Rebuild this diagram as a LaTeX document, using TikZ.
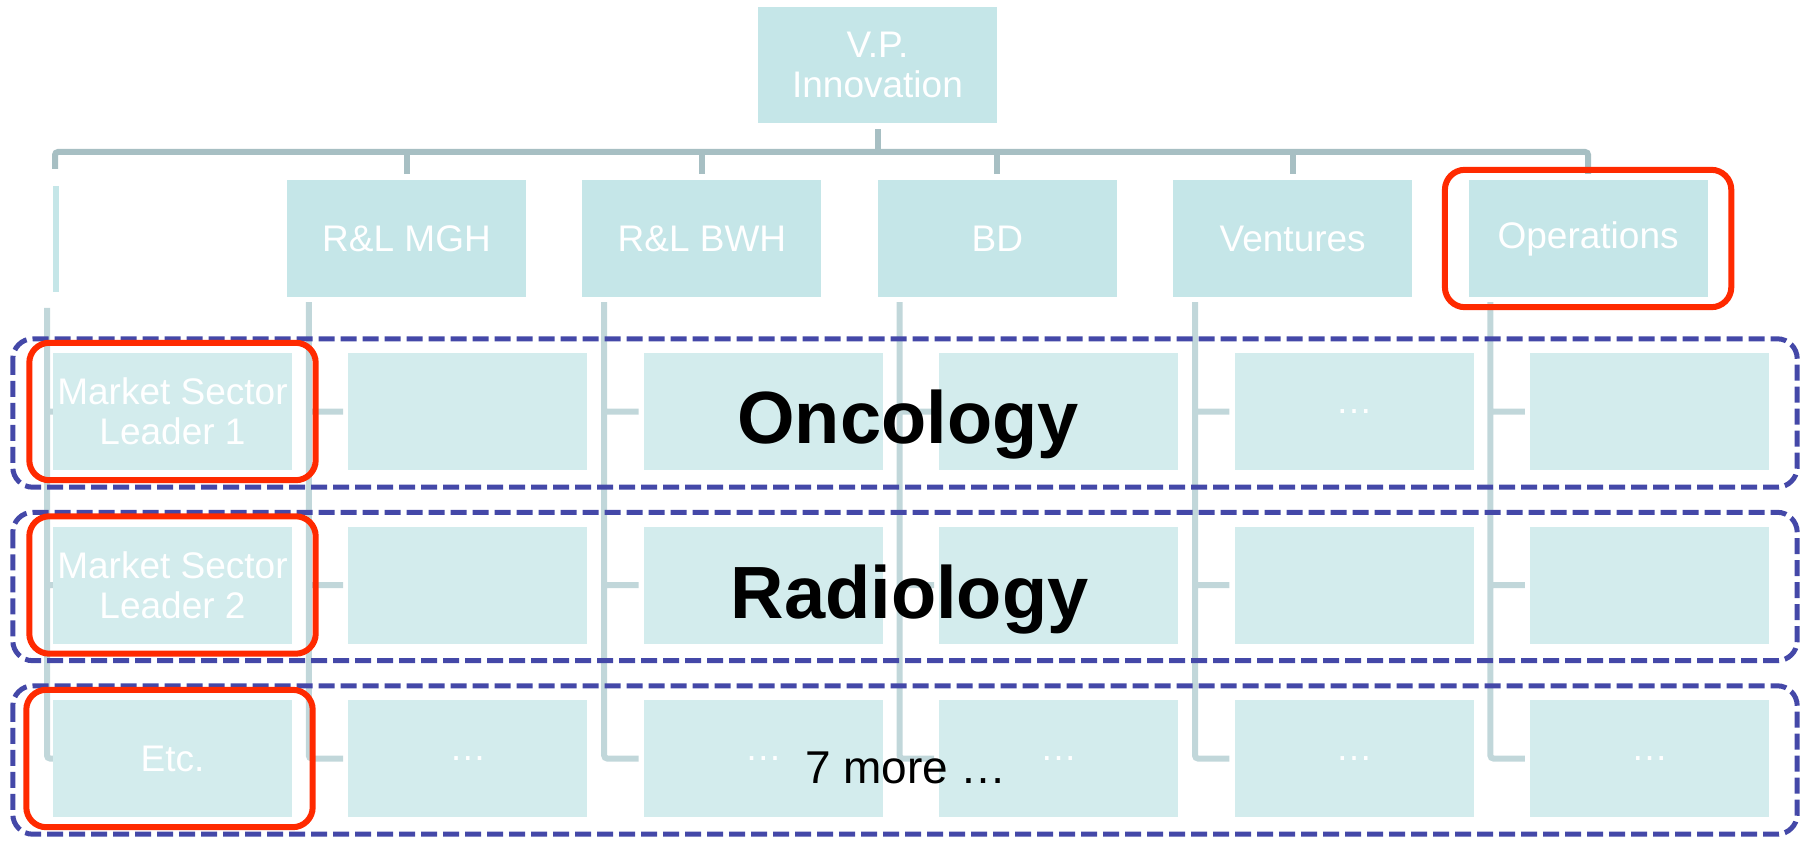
\documentclass[tikz,border=0pt]{standalone}
\usepackage{fontspec}
\setmainfont{Liberation Sans}
\usetikzlibrary{fit}
\definecolor{postfill}{RGB}{197,230,232}
\definecolor{slotfill}{RGB}{211,236,237}
\definecolor{busline}{RGB}{167,191,195}
\definecolor{linkline}{RGB}{193,215,218}
\definecolor{markred}{RGB}{255,42,0}
\definecolor{sectorblue}{RGB}{68,72,168}
\tikzset{post/.style={fill=postfill, text=white, minimum width=239pt, minimum height=117pt, inner sep=0pt, align=center, font=\fontsize{37}{40}\selectfont},
         slot/.style={post, fill=slotfill},
         bus/.style={busline, line width=6pt},
         link/.style={linkline, line width=6pt, rounded corners=3pt}}
\tikzset{highlight/.style={draw=markred, line width=6pt, rounded corners=20pt, inner xsep=23.5pt, inner ysep=10pt},
         sector/.style={sectorblue, line width=5pt, dash pattern=on 16pt off 6pt, rounded corners=20pt},
         sectorname/.style={anchor=base, inner sep=0pt, text=black, font=\fontsize{74}{80}\selectfont\bfseries}}

\begin{document}
\begin{tikzpicture}[x=1pt,y=-1pt]
  \useasboundingbox (0,0) rectangle (1802,842);

  % top and second level
  \node[post, minimum height=116pt] (vp) at (877.5,65) {V.P.\\Innovation};
  \node[post] (mgh)  at ( 406.5,238.5) {R\&L MGH};
  \node[post] (bwh)  at ( 701.9,238.5) {R\&L BWH};
  \node[post] (bd)   at ( 997.3,238.5) {BD};
  \node[post] (vent) at (1292.7,238.5) {Ventures};
  \node[post] (ops)  at (1588.1,238.5) {Operations};

  % market sector rows
  \node[slot] (ms1)   at ( 172.5,411.5) {Market Sector\\Leader 1};
  \node[slot] (mgh1)  at ( 467.9,411.5) {};
  \node[slot] (bwh1)  at ( 763.3,411.5) {};
  \node[slot] (bd1)   at (1058.7,411.5) {};
  \node[slot] (vent1) at (1354.1,411.5) {…};
  \node[slot] (ops1)  at (1649.5,411.5) {};

  \node[slot] (ms2)   at ( 172.5,585) {Market Sector\\Leader 2};
  \node[slot] (mgh2)  at ( 467.9,585) {};
  \node[slot] (bwh2)  at ( 763.3,585) {};
  \node[slot] (bd2)   at (1058.7,585) {};
  \node[slot] (vent2) at (1354.1,585) {};
  \node[slot] (ops2)  at (1649.5,585) {};

  \node[slot] (ms3)   at ( 172.5,758.5) {Etc.};
  \node[slot] (mgh3)  at ( 467.9,758.5) {…};
  \node[slot] (bwh3)  at ( 763.3,758.5) {…};
  \node[slot] (bd3)   at (1058.7,758.5) {…};
  \node[slot] (vent3) at (1354.1,758.5) {…};
  \node[slot] (ops3)  at (1649.5,758.5) {…};

  % reporting lines
  \coordinate (bus)   at (877.5,152);
  \coordinate (spare) at (55,169);
  \draw[bus] ([yshift=-6pt]vp.south) -- (vp |- bus);
  \draw[bus, rounded corners=3pt] (spare) |- (bus) -| ([yshift=6pt]ops.north);
  \draw[bus] (mgh |- bus)  -- ([yshift=6pt]mgh.north);
  \draw[bus] (bwh |- bus)  -- ([yshift=6pt]bwh.north);
  \draw[bus] (bd |- bus)   -- ([yshift=6pt]bd.north);
  \draw[bus] (vent |- bus) -- ([yshift=6pt]vent.north);
  \draw[postfill, line width=6pt] (56,186) -- (56,292);

  \coordinate (t1) at (47,308);
  \coordinate (t2) at ([shift={(22pt,-5pt)}]mgh.south west);
  \coordinate (t3) at ([shift={(22pt,-5pt)}]bwh.south west);
  \coordinate (t4) at ([shift={(22pt,-5pt)}]bd.south west);
  \coordinate (t5) at ([shift={(22pt,-5pt)}]vent.south west);
  \coordinate (t6) at ([shift={(22pt,-5pt)}]ops.south west);
  \draw[link] (t1) |- (ms3.west) (t1 |- ms1) -- (ms1.west) (t1 |- ms2) -- (ms2.west);
  \draw[link] (t2) |- ([xshift=-5pt]mgh3.west)  (t2 |- mgh1)  -- ([xshift=-5pt]mgh1.west)  (t2 |- mgh2)  -- ([xshift=-5pt]mgh2.west);
  \draw[link] (t3) |- ([xshift=-5pt]bwh3.west)  (t3 |- bwh1)  -- ([xshift=-5pt]bwh1.west)  (t3 |- bwh2)  -- ([xshift=-5pt]bwh2.west);
  \draw[link] (t4) |- ([xshift=-5pt]bd3.west)   (t4 |- bd1)   -- ([xshift=-5pt]bd1.west)   (t4 |- bd2)   -- ([xshift=-5pt]bd2.west);
  \draw[link] (t5) |- ([xshift=-5pt]vent3.west) (t5 |- vent1) -- ([xshift=-5pt]vent1.west) (t5 |- vent2) -- ([xshift=-5pt]vent2.west);
  \draw[link] (t6) |- ([xshift=-5pt]ops3.west)  (t6 |- ops1)  -- ([xshift=-5pt]ops1.west)  (t6 |- ops2)  -- ([xshift=-5pt]ops2.west);

  % sector frames
  \draw[sector] ([shift={(-40pt,14pt)}]ms1.north west) rectangle ([shift={(28pt,-17pt)}]ops1.south east);
  \draw[sector] ([shift={(-40pt,14pt)}]ms2.north west) rectangle ([shift={(28pt,-17pt)}]ops2.south east);
  \draw[sector] ([shift={(-40pt,14pt)}]ms3.north west) rectangle ([shift={(28pt,-17pt)}]ops3.south east);

  % highlighted posts
  \node[highlight, fit=(ops)] (opsmark) {};
  \node[highlight, fit=(ms1)] (ms1mark) {};
  \node[highlight, fit=(ms2)] (ms2mark) {};
  \node[highlight, fit=(ms3), xshift=-3pt] (ms3mark) {};

  \node[sectorname] (onc) at (908,443) {Oncology};
  \node[sectorname] (rad) at (909.5,618) {Radiology};
  \node[anchor=base, inner sep=0pt, font=\fontsize{46}{50}\selectfont] (more) at (906,783) {7 more …};
\end{tikzpicture}
\end{document}
